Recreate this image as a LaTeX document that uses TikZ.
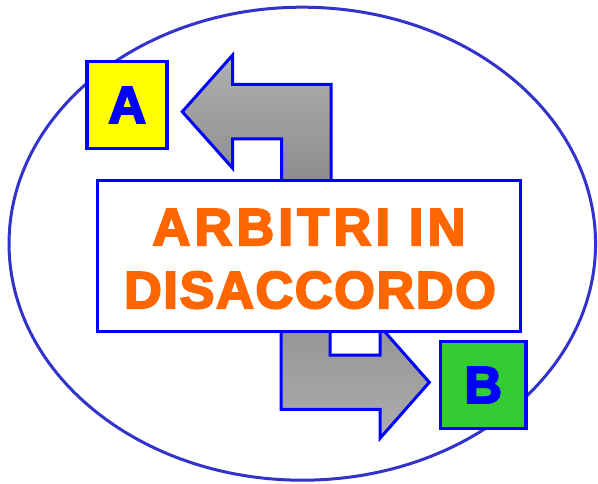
\documentclass[tikz,border=0pt]{standalone}
\usepackage{fontspec}
\setmainfont{Liberation Sans}
\newfontfamily\heavyone{Liberation Sans Bold}[FakeBold=4,LetterSpace=8.5]
\newfontfamily\heavytwo{Liberation Sans Bold}[FakeBold=4,LetterSpace=3.5]
\newfontfamily\heavylab{Liberation Sans Bold}[FakeBold=4]
\usetikzlibrary{shapes.geometric}
\definecolor{ringblue}{HTML}{3333CC}
\definecolor{pureblue}{HTML}{0000FF}
\definecolor{txtorange}{HTML}{FF6600}
\definecolor{boxyellow}{HTML}{FFFF00}
\definecolor{boxgreen}{HTML}{33CC33}
\tikzset{
  ring/.style={draw=ringblue, line width=3pt},
  bentarrow/.style={draw=pureblue, line width=3pt, line join=miter},
  labelbox/.style={draw=pureblue, line width=3.8pt, inner sep=0pt,
    minimum width=80pt, minimum height=87pt, text=pureblue,
    font=\heavylab\fontsize{52}{52}\selectfont},
  titlebox/.style={draw=pureblue, fill=white, line width=3pt, inner sep=0pt,
    minimum width=423pt, minimum height=151pt},
  titletext/.style={text=txtorange, inner sep=0pt, anchor=base}
}
\begin{document}
\begin{tikzpicture}[x=1pt,y=-1pt]
\useasboundingbox (0,0) rectangle (598,484);
% surrounding ellipse
\node[ring, ellipse, minimum width=586.5pt, minimum height=473pt, inner sep=0pt] (ring) at (302.3,243.7) {};
% upper bent arrow (towards A)
\draw[bentarrow, top color=black!31, bottom color=black!46]
  (182.3,111.7) -- (232.7,55) -- (232.7,84.3) -- (331,84.3) -- (331,190)
  -- (281.7,190) -- (281.7,139) -- (232.7,139) -- (232.7,168.3) -- cycle;
% lower bent arrow (towards B)
\draw[bentarrow, top color=black!42, bottom color=black!32]
  (281,322) -- (330,322) -- (330,355) -- (380,355) -- (380,326.3)
  -- (429.3,382.3) -- (380,438.3) -- (380,409.3) -- (281,409.3) -- cycle;
% title box
\node[titlebox] (title) at (309.35,255.8) {};
\node[titletext, font=\heavyone\fontsize{52}{52}\selectfont] (line1) at (309,245) {ARBITRI IN};
\node[titletext, font=\heavytwo\fontsize{52}{52}\selectfont] (line2) at (310,308) {DISACCORDO};
% label boxes
\node[labelbox, fill=boxyellow] (A) at (127.2,105) {A};
\node[labelbox, fill=boxgreen, minimum width=85.5pt] (B) at (483.2,385) {B};
\end{tikzpicture}
\end{document}
